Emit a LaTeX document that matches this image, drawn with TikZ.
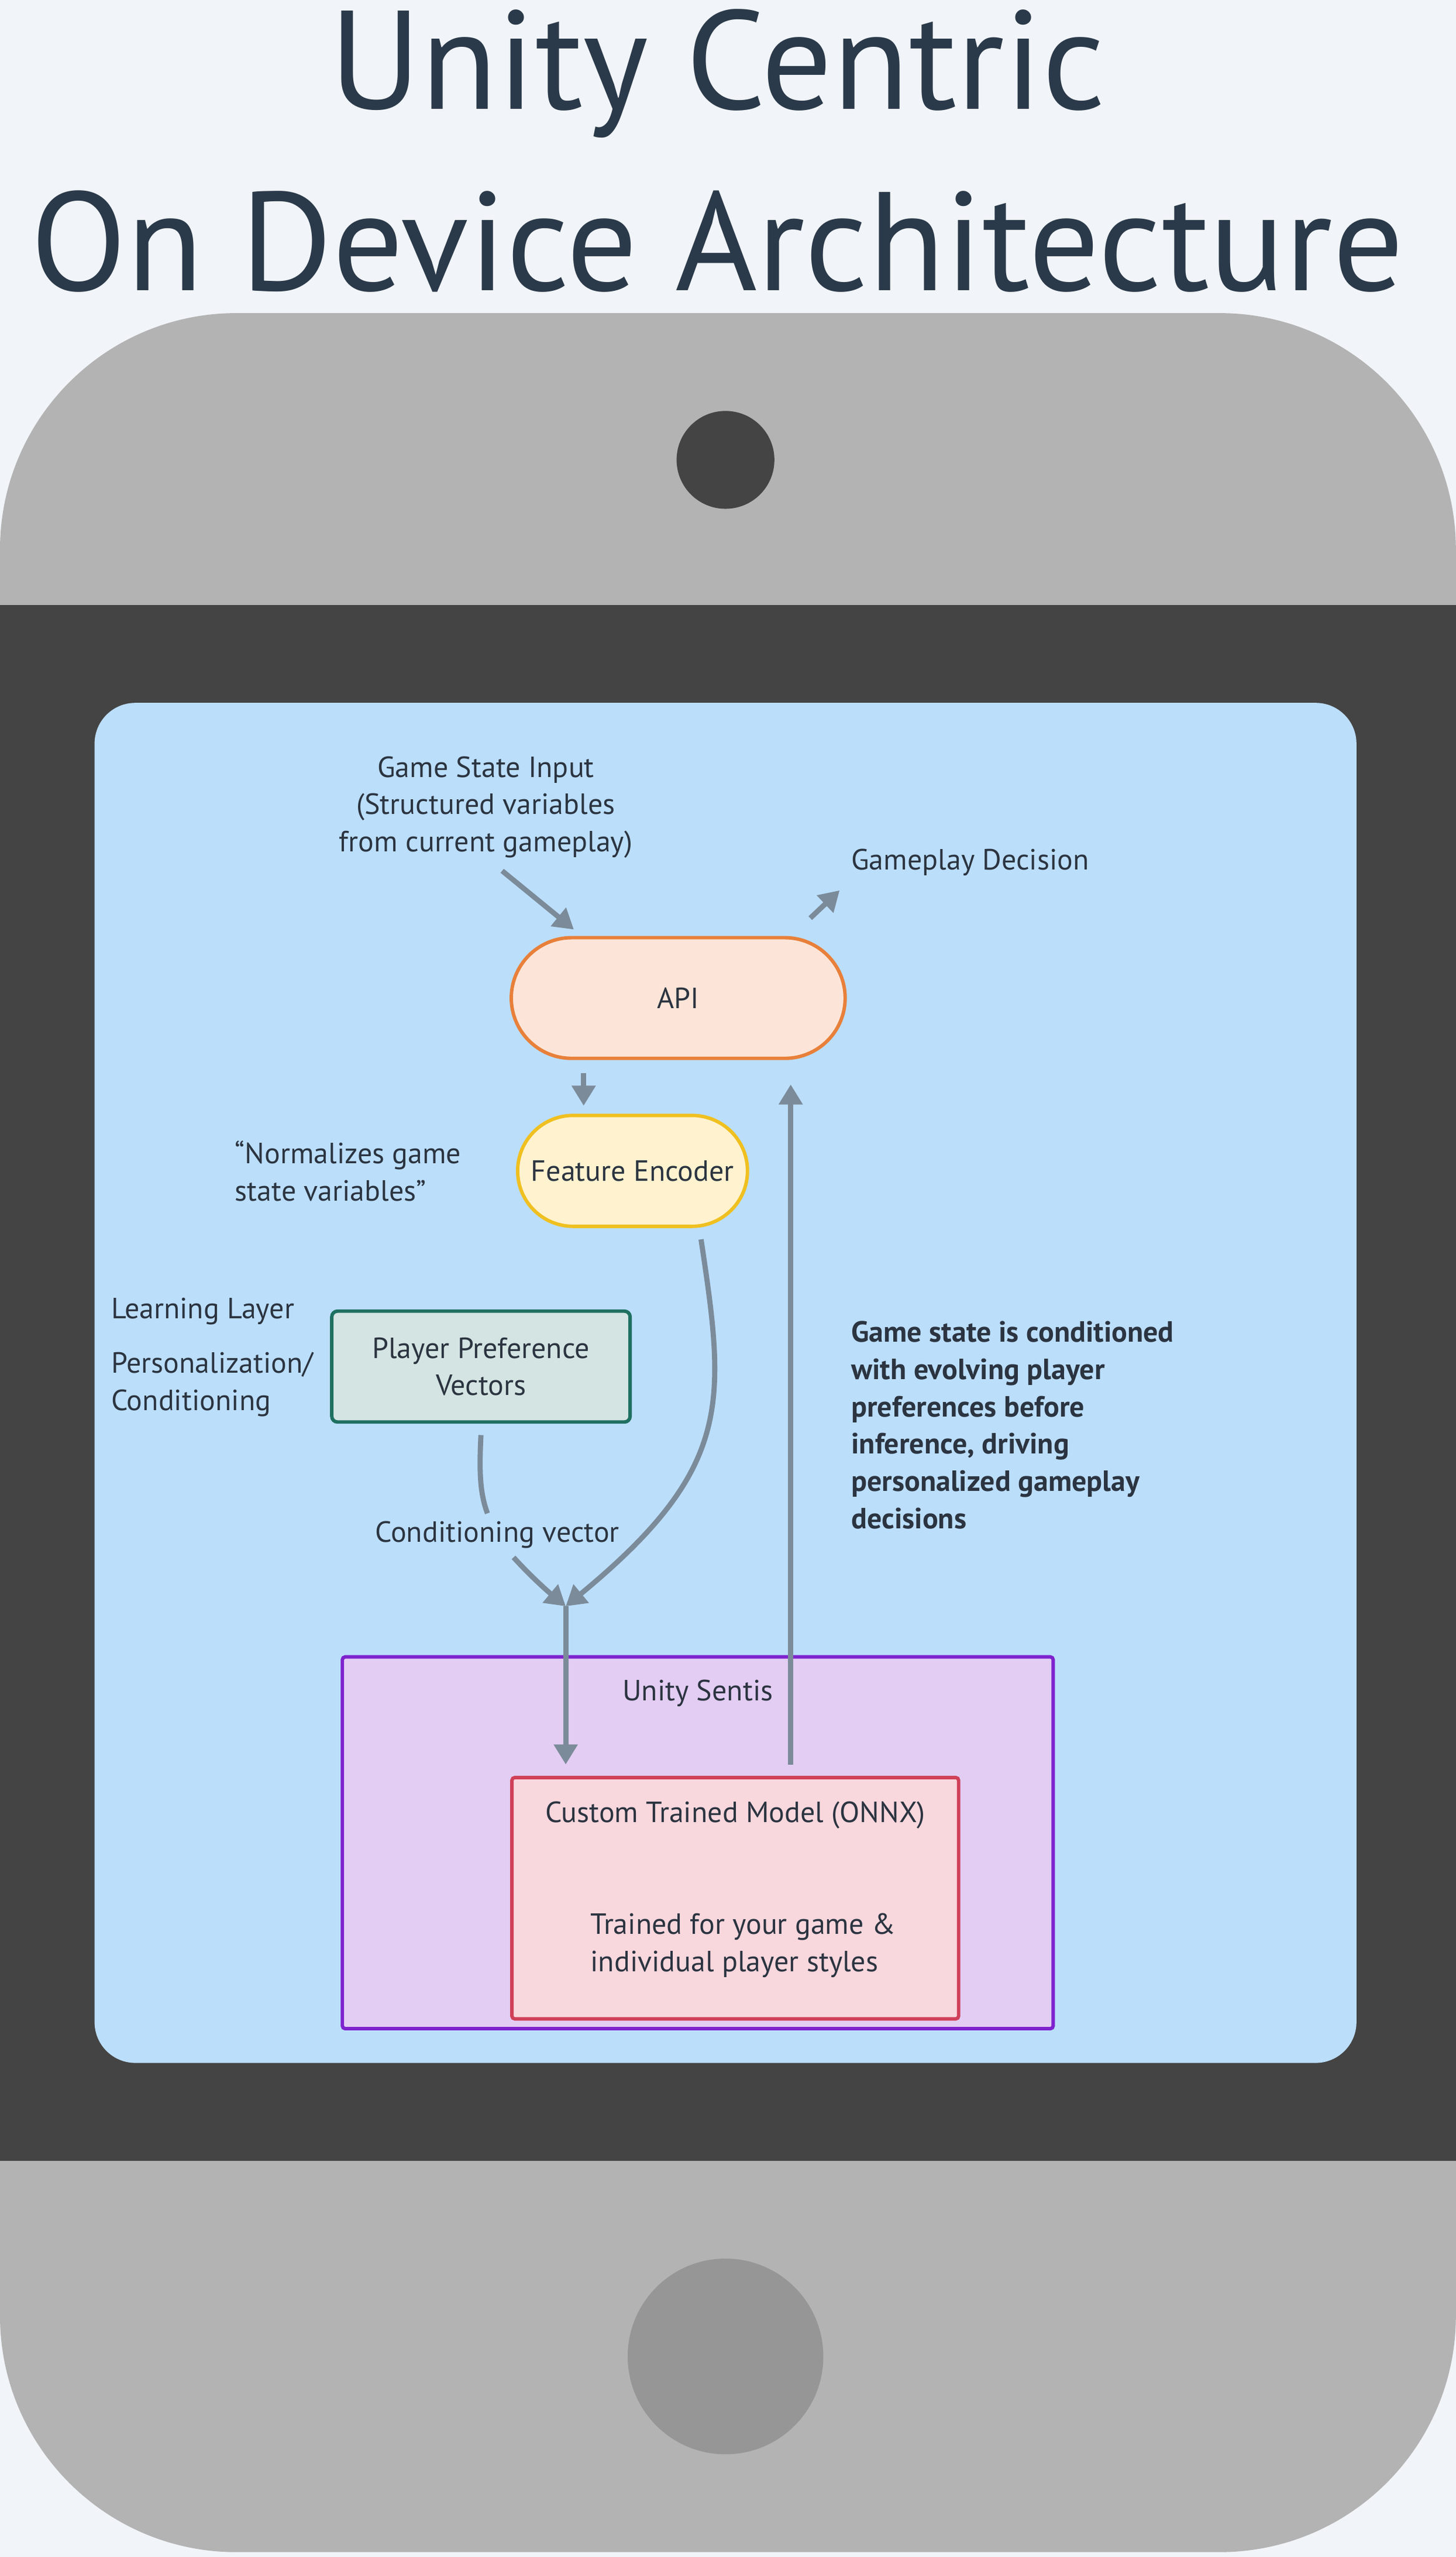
\documentclass[tikz,border=0pt]{standalone}
\usepackage{fontspec}
\setmainfont{PT Sans}
\usetikzlibrary{arrows.meta,positioning,shapes.misc}
\definecolor{bgcol}{HTML}{F1F4F8}
\definecolor{titlecol}{HTML}{2B3A4A}
\definecolor{phonecol}{HTML}{B3B3B3}
\definecolor{screencol}{HTML}{444444}
\definecolor{panelcol}{HTML}{BBDEFB}
\definecolor{arrowcol}{HTML}{7B8B99}
\definecolor{txtcol}{HTML}{2B3440}
\definecolor{sentisfill}{HTML}{E3CDF3}
\definecolor{sentisdraw}{HTML}{7E22CE}
\definecolor{modelfill}{HTML}{F8D7DD}
\definecolor{modeldraw}{HTML}{D04058}
\definecolor{apifill}{HTML}{FCE5D8}
\definecolor{apidraw}{HTML}{E8803A}
\definecolor{encfill}{HTML}{FFF2CF}
\definecolor{encdraw}{HTML}{F0C020}
\definecolor{preffill}{HTML}{D3E4E2}
\definecolor{prefdraw}{HTML}{1E7060}
\begin{document}
\begin{tikzpicture}[x=0.02cm,y=-0.02cm,
    flow/.style={draw=arrowcol,line width=1.8pt,-{Triangle[length=7pt,width=8pt]}},
    lbl/.style={text=txtcol,font=\fontsize{10.2}{13}\selectfont,align=left},
    box/.style={line width=1.2pt,text=txtcol,font=\fontsize{10.2}{13}\selectfont,align=center}]
    % frame
    \fill[bgcol] (0,0) rectangle (893,1568);
    \useasboundingbox (0,0) rectangle (893,1568);
    \node[text=titlecol,font=\fontsize{49}{53}\selectfont] (t1) at (440,45) {Unity Centric};
    \node[text=titlecol,font=\fontsize{49}{53}\selectfont] (t2) at (440,148) {On Device Architecture};
    % phone
    \fill[phonecol] (0,371) [rounded corners=2.9cm] -- (0,192) -- (893,192) [sharp corners] -- (893,371) -- cycle;
    \fill[phonecol] (0,1325) [rounded corners=2.9cm] -- (0,1565) -- (893,1565) [sharp corners] -- (893,1325) -- cycle;
    \fill[screencol] (0,371) rectangle (893,1325);
    \fill[screencol] (445,282) circle[radius=30];
    \fill[black!41] (445,1445) circle[radius=60];
    \fill[panelcol,rounded corners=0.5cm] (58,431) rectangle (832,1265);
    % boxes
    \node[box,draw=sentisdraw,fill=sentisfill,rounded corners=1pt,minimum width=436*0.02cm,minimum height=228*0.02cm,inner sep=0pt] (sentis) at (428,1130) {};
    \node[lbl,below=5pt of sentis.north] (sentislbl) {Unity Sentis};
    \node[box,draw=modeldraw,fill=modelfill,rounded corners=1pt,minimum width=274*0.02cm,minimum height=148*0.02cm,inner sep=0pt] (model) at (451,1164) {};
    \node[lbl] (modellbl) at (451,1113) {Custom Trained Model (ONNX)};
    \node[lbl,anchor=west] (modeltxt) at (356,1193) {Trained for your game \&\\individual player styles};
    \node[box,draw=apidraw,fill=apifill,rounded rectangle,text width=3.84cm,minimum height=74*0.02cm] (api) at (416,612) {API};
    \node[box,draw=encdraw,fill=encfill,rounded rectangle,minimum width=148*0.02cm,minimum height=68*0.02cm,inner xsep=2pt] (enc) at (388,718) {Feature Encoder};
    \node[box,draw=prefdraw,fill=preffill,rounded corners=2pt,minimum width=183*0.02cm,minimum height=68*0.02cm] (pref) at (295,838) {Player Preference\\Vectors};
    % labels
    \node[lbl,align=center] (gsi) at (298,495) {Game State Input\\(Structured variables\\from current gameplay)};
    \node[lbl,anchor=west] (dec) at (516,529) {Gameplay Decision};
    \node[lbl,anchor=west] (norm) at (138,718) {“Normalizes game\\state variables”};
    \node[lbl,anchor=west] (layer) at (62,804) {Learning Layer};
    \node[lbl,anchor=west] (pers) at (62,849) {Personalization/\\Conditioning};
    \node[lbl] (condv) at (305,941) {Conditioning vector};
    \node[lbl,anchor=north west,font=\bfseries\fontsize{10.2}{13}\selectfont] (note) at (516,804) {Game state is conditioned\\with evolving player\\preferences before\\inference, driving\\personalized gameplay\\decisions};
    % connectors
    \coordinate (gsiEnd) at (352,570);
    \coordinate (decStart) at (497,563);
    \coordinate (decEnd) at (515,546);
    \coordinate (merge) at (347,985);
    \coordinate (modelTop) at (347,1082);
    \coordinate (outStart) at (485,1082);
    \coordinate (outEnd) at (485,665);
    \draw[flow] (308,534) -- (gsiEnd);
    \draw[flow] (decStart) -- (decEnd);
    \draw[flow] (api.south west -| 358,0) ++(0,8) -- ++(0,20);
    \draw[flow] (430,760) .. controls (445,860) and (450,900) .. (merge);
    \draw[draw=arrowcol,line width=1.8pt] (295,880) .. controls (294,900) and (294,915) .. (299,928);
    \draw[flow] (315,955) .. controls (325,966) and (335,975) .. (merge);
    \draw[flow] (merge) -- (modelTop);
    \draw[flow] (outStart) -- (outEnd);
\end{tikzpicture}
\end{document}
